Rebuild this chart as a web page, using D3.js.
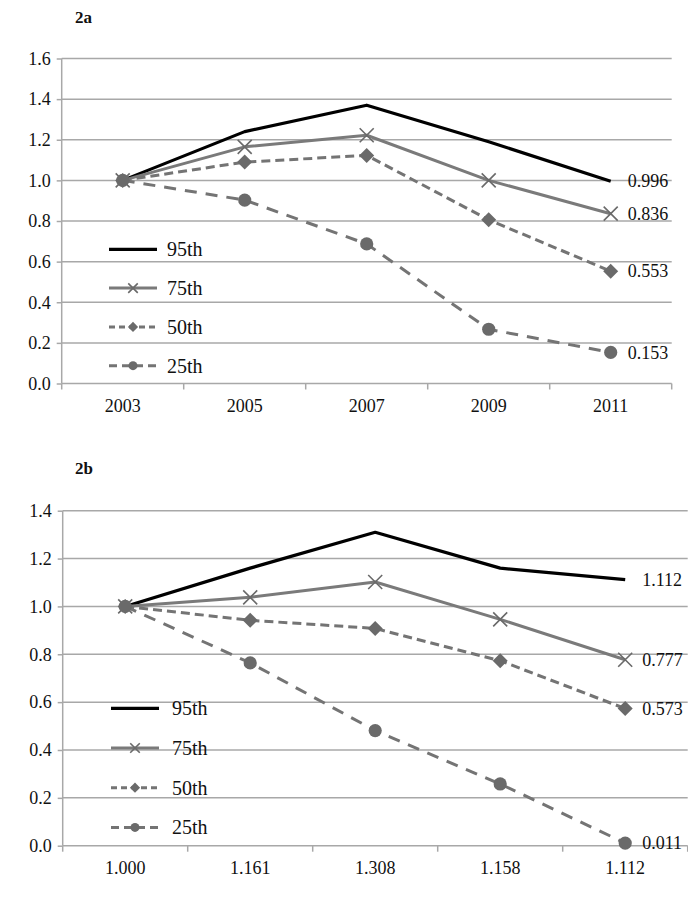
<!DOCTYPE html>
<html>
<head>
<meta charset="utf-8">
<script src="https://cdn.jsdelivr.net/npm/d3@7"></script>
<style>
  html, body { margin: 0; padding: 0; background: #fff; }
  svg { display: block; }
  svg text { font-family: "Liberation Serif", "Times New Roman", serif !important; fill: #111; }
</style>
</head>
<body>
<svg id="chart" width="688" height="900"></svg>
<script>
// ---------- DATA ----------
const seriesNames = ["95th", "75th", "50th", "25th"];

// Panel 2a
const panelATitle = "2a";
const panelACategories = ["2003", "2005", "2007", "2009", "2011"];
const panelA95 = [1.000, 1.240, 1.370, 1.190, 0.996];
const panelA75 = [1.000, 1.165, 1.222, 1.000, 0.836];
const panelA50 = [1.000, 1.090, 1.123, 0.806, 0.553];
const panelA25 = [1.000, 0.903, 0.687, 0.267, 0.153];
const panelAEndLabels = ["0.996", "0.836", "0.553", "0.153"];
const panelAYTicks = [0, 0.2, 0.4, 0.6, 0.8, 1.0, 1.2, 1.4, 1.6];

// Panel 2b
const panelBTitle = "2b";
const panelBCategories = ["1.000", "1.161", "1.308", "1.158", "1.112"];
const panelB95 = [1.000, 1.160, 1.310, 1.160, 1.112];
const panelB75 = [1.000, 1.038, 1.102, 0.946, 0.777];
const panelB50 = [1.000, 0.942, 0.908, 0.773, 0.573];
const panelB25 = [1.000, 0.764, 0.481, 0.258, 0.011];
const panelBEndLabels = ["1.112", "0.777", "0.573", "0.011"];
const panelBYTicks = [0, 0.2, 0.4, 0.6, 0.8, 1.0, 1.2, 1.4];

// ---------- STYLES ----------
const styles = {
  "95th": { color: "#000000", width: 3.2, dash: null, marker: null },
  "75th": { color: "#7a7a7a", width: 3, dash: null, marker: "x" },
  "50th": { color: "#747474", width: 3, dash: "9,5", marker: "diamond" },
  "25th": { color: "#747474", width: 3, dash: "12,9", marker: "circle" }
};
const gridColor = "#a8a8a8";
const markerColor = "#6a6a6a";
const FONT = "'Liberation Serif', 'Times New Roman', serif";

const svg = d3.select("#chart");

function drawMarker(g, type, cx, cy, scale) {
  if (!type) return;
  if (type === "x") {
    const s = 7 * scale;
    g.append("path")
      .attr("d", `M${cx - s},${cy - s}L${cx + s},${cy + s}M${cx - s},${cy + s}L${cx + s},${cy - s}`)
      .attr("stroke", markerColor).attr("stroke-width", 1.6).attr("fill", "none");
  } else if (type === "diamond") {
    const s = 7.5 * scale;
    g.append("path")
      .attr("d", `M${cx},${cy - s}L${cx + s},${cy}L${cx},${cy + s}L${cx - s},${cy}Z`)
      .attr("fill", markerColor);
  } else if (type === "circle") {
    g.append("circle").attr("cx", cx).attr("cy", cy).attr("r", 6.6 * scale)
      .attr("fill", markerColor);
  }
}

function drawPanel(cfg) {
  const g = svg.append("g");
  const x = d3.scaleBand().domain(cfg.categories).range([cfg.left, cfg.right]);
  const y = d3.scaleLinear().domain([0, cfg.yMax]).range([cfg.bottom, cfg.top]);

  // title
  g.append("text").attr("x", cfg.titleX).attr("y", cfg.titleY)
    .style("font-family", FONT)
    .attr("font-weight", "bold").attr("font-size", 17).text(cfg.title);

  // gridlines
  g.append("g").selectAll("line").data(cfg.yTicks.filter(d => d > 0)).join("line")
    .attr("x1", cfg.left).attr("x2", cfg.right)
    .attr("y1", d => y(d)).attr("y2", d => y(d))
    .attr("stroke", gridColor).attr("stroke-width", 1.5);

  // y axis
  const yAxis = d3.axisLeft(y).tickValues(cfg.yTicks).tickFormat(d3.format(".1f"))
    .tickSize(5).tickPadding(6);
  const ya = g.append("g").attr("transform", `translate(${cfg.left},0)`).call(yAxis)
    .attr("font-family", null);
  ya.select(".domain").attr("stroke", gridColor).attr("stroke-width", 1.5)
    .attr("d", `M0,${cfg.bottom}V${cfg.top}`);
  ya.selectAll(".tick line").attr("stroke", gridColor).attr("stroke-width", 1.5);
  ya.selectAll(".tick text").attr("font-size", 18).attr("fill", "#111")
    .style("font-family", FONT);

  // x axis
  const xAxis = d3.axisBottom(x).tickSize(0).tickPadding(16);
  const xa = g.append("g").attr("transform", `translate(0,${cfg.bottom})`).call(xAxis)
    .attr("font-family", null);
  xa.select(".domain").attr("stroke", gridColor).attr("stroke-width", 1.5)
    .attr("d", `M${cfg.left},0H${cfg.right}`);
  xa.selectAll(".tick text").attr("font-size", 18).attr("fill", "#111")
    .style("font-family", FONT);
  // band-boundary tick marks
  const bounds = cfg.categories.map(c => x(c)).concat([x.range()[1]]);
  xa.append("g").selectAll("line").data(bounds).join("line")
    .attr("x1", d => d).attr("x2", d => d).attr("y1", 0).attr("y2", 6)
    .attr("stroke", gridColor).attr("stroke-width", 1.5);

  const cx = c => x(c) + x.bandwidth() / 2;
  const line = d3.line().x((d, i) => cx(cfg.categories[i])).y(d => y(d));

  cfg.series.forEach((vals, si) => {
    const name = seriesNames[si];
    const st = styles[name];
    g.append("path").datum(vals).attr("d", line)
      .attr("fill", "none").attr("stroke", st.color).attr("stroke-width", st.width)
      .attr("stroke-dasharray", st.dash).attr("stroke-linejoin", "round");
  });
  cfg.series.forEach((vals, si) => {
    const st = styles[seriesNames[si]];
    vals.forEach((v, i) => drawMarker(g, st.marker, cx(cfg.categories[i]), y(v), 1));
    // end label
    const last = vals.length - 1;
    g.append("text").attr("x", cx(cfg.categories[last]) + 17).attr("y", y(vals[last]))
      .style("font-family", FONT)
      .attr("dy", "0.35em").attr("font-size", 18).text(cfg.endLabels[si]);
  });

  // legend
  seriesNames.forEach((name, i) => {
    const st = styles[name];
    const ly = cfg.legendY + i * cfg.legendStep;
    g.append("line").attr("x1", cfg.legendX).attr("x2", cfg.legendX + 48)
      .attr("y1", ly).attr("y2", ly)
      .attr("stroke", st.color).attr("stroke-width", st.width)
      .attr("stroke-dasharray", st.dash ? (name === "50th" ? "6,4" : "8,5") : null);
    drawMarker(g, st.marker, cfg.legendX + 24, ly, 0.68);
    g.append("text").attr("x", cfg.legendX + cfg.legendTextOffset).attr("y", ly)
      .style("font-family", FONT)
      .attr("dy", "0.35em").attr("font-size", 20).text(name);
  });
}

drawPanel({
  title: panelATitle, titleX: 75, titleY: 23,
  categories: panelACategories, yMax: 1.6, yTicks: panelAYTicks,
  left: 61.7, right: 671.7, top: 58.5, bottom: 383.5,
  series: [panelA95, panelA75, panelA50, panelA25], endLabels: panelAEndLabels,
  legendX: 109, legendY: 249.3, legendStep: 38.8, legendTextOffset: 58
});

drawPanel({
  title: panelBTitle, titleX: 75, titleY: 474,
  categories: panelBCategories, yMax: 1.4, yTicks: panelBYTicks,
  left: 62.7, right: 687.7, top: 510.7, bottom: 845.7,
  series: [panelB95, panelB75, panelB50, panelB25], endLabels: panelBEndLabels,
  legendX: 111, legendY: 708.3, legendStep: 39.7, legendTextOffset: 61
});
</script>
</body>
</html>
